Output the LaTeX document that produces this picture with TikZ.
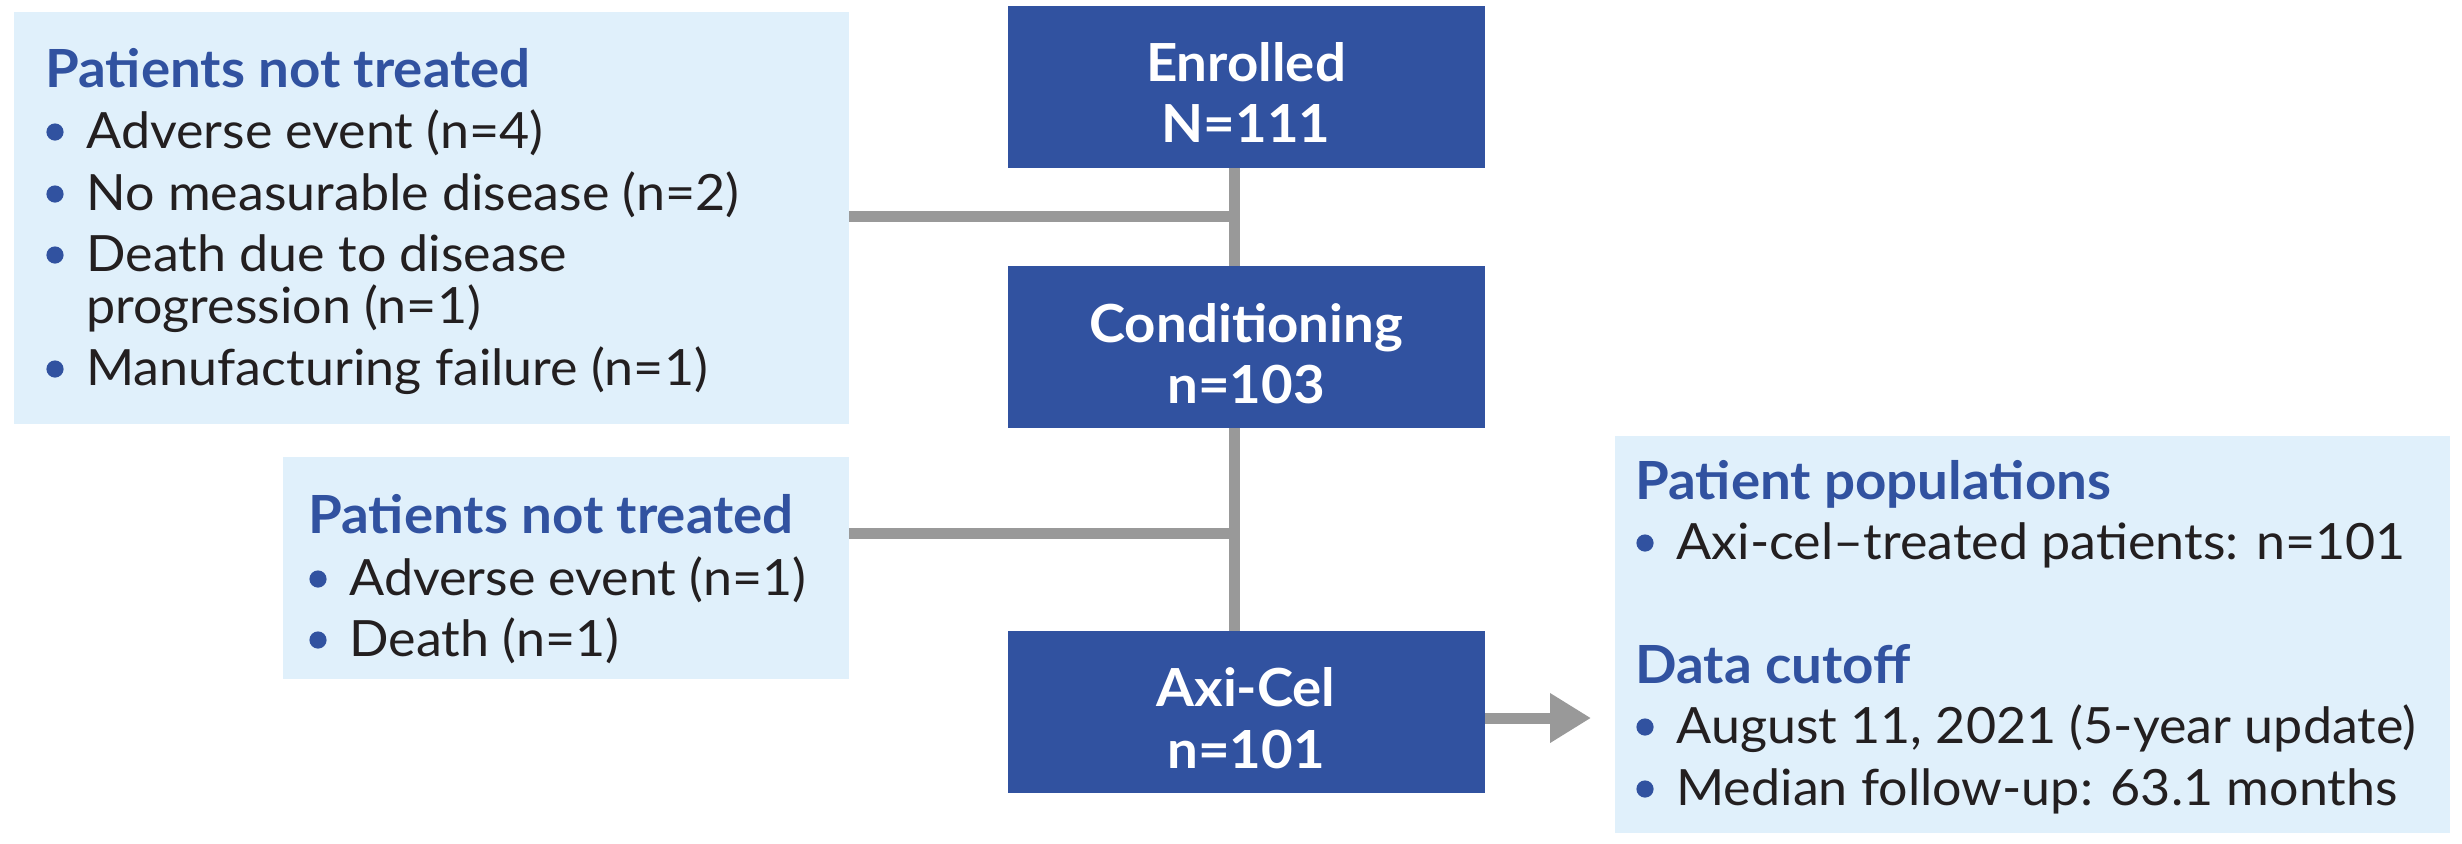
\documentclass[tikz,border=0pt]{standalone}
\usepackage{fontspec}
\setmainfont{Lato}[FakeStretch=1.04]
\usetikzlibrary{arrows.meta}
\definecolor{dblue}{HTML}{3152A0}
\definecolor{lblue}{HTML}{E0F0FB}
\definecolor{lgray}{HTML}{999999}
\definecolor{txtc}{HTML}{231F20}
\begin{document}
\begin{tikzpicture}[x=0.5pt,y=-0.5pt,
  panel/.style={fill=lblue, draw=none, inner sep=0pt},
  stage/.style={fill=dblue, draw=none, inner sep=0pt, minimum width=238.5pt, minimum height=81pt},
  body/.style={anchor=base west, inner sep=0pt, text=txtc, font=\fontsize{25}{30}\selectfont},
  head/.style={anchor=base west, inner sep=0pt, text=dblue, font=\fontsize{26.3}{31}\selectfont\bfseries},
  stagetxt/.style={anchor=base, inner sep=0pt, text=white, font=\fontsize{26.25}{32}\selectfont\bfseries},
  dot/.style={fill=dblue},
  conn/.style={draw=lgray, line width=5.5pt}
]
\useasboundingbox (0,0) rectangle (2462,843);
% panels
\node[panel, minimum width=417.5pt, minimum height=206pt] (nt1) at (431.5,218) {};
\node[panel, minimum width=283pt, minimum height=111pt] (nt2) at (566,568) {};
\node[panel, minimum width=417.5pt, minimum height=198.5pt] (info) at (2032.5,634.5) {};
% stages
\node[stage] (enr) at (1246.5,86.5) {};
\node[stage] (cond) at (1246.5,347) {};
\node[stage] (axi) at (1246.5,712) {};
\node[stagetxt] (enrA) at (1246,81) {Enrolled};
\node[stagetxt] (enrB) at (1246,142) {N=111};
\node[stagetxt] (condA) at (1246,342) {Conditioning};
\node[stagetxt] (condB) at (1246,403) {n=103};
\node[stagetxt] (axiA) at (1246,706) {Axi-Cel};
\node[stagetxt] (axiB) at (1246,768) {n=101};
% connectors
\coordinate (j1) at (1234,216);
\coordinate (j2) at (1234,533);
\coordinate (arrEnd) at (1591,718);
\draw[conn] (enr.south -| j1) -- (cond.north -| j1);
\draw[conn] (cond.south -| j2) -- (axi.north -| j2);
\draw[conn] (nt1.east |- j1) -- ([xshift=2.75pt]j1);
\draw[conn] (nt2.east |- j2) -- ([xshift=2.75pt]j2);
\draw[conn, -{Triangle[length=20.5pt,width=23.5pt]}] (axi.east |- arrEnd) -- (arrEnd);
% panel 1 text
\node[head] (h1) at (45,87) {Patients not treated};
\node[body] (a1) at (86,148) {Adverse event (n=4)};
\node[body] (a2) at (86,210) {No measurable disease (n=2)};
\node[body] (a3) at (86,271) {Death due to disease};
\node[body] (a3b) at (86,323) {progression (n=1)};
\node[body] (a4) at (86,385) {Manufacturing failure (n=1)};
\foreach \yy in {148,210,271,385} \fill[dot] (55,\yy-16) circle (4.3pt);
% panel 2 text
\node[head] (h2) at (308,533) {Patients not treated};
\node[body] (b1) at (349,595) {Adverse event (n=1)};
\node[body] (b2) at (349,656) {Death (n=1)};
\foreach \yy in {595,656} \fill[dot] (318,\yy-16) circle (4.3pt);
% info text
\node[head] (h3) at (1635,499) {Patient populations};
\node[body] (c1) at (1676,559) {Axi-cel–treated patients: n=101};
\node[head] (h4) at (1635,683) {Data cutoff};
\node[body] (c2) at (1676,743) {August 11, 2021 (5-year update)};
\node[body] (c3) at (1676,805) {Median follow-up: 63.1 months};
\foreach \yy in {559,743,805} \fill[dot] (1645,\yy-16) circle (4.3pt);
\end{tikzpicture}
\end{document}
